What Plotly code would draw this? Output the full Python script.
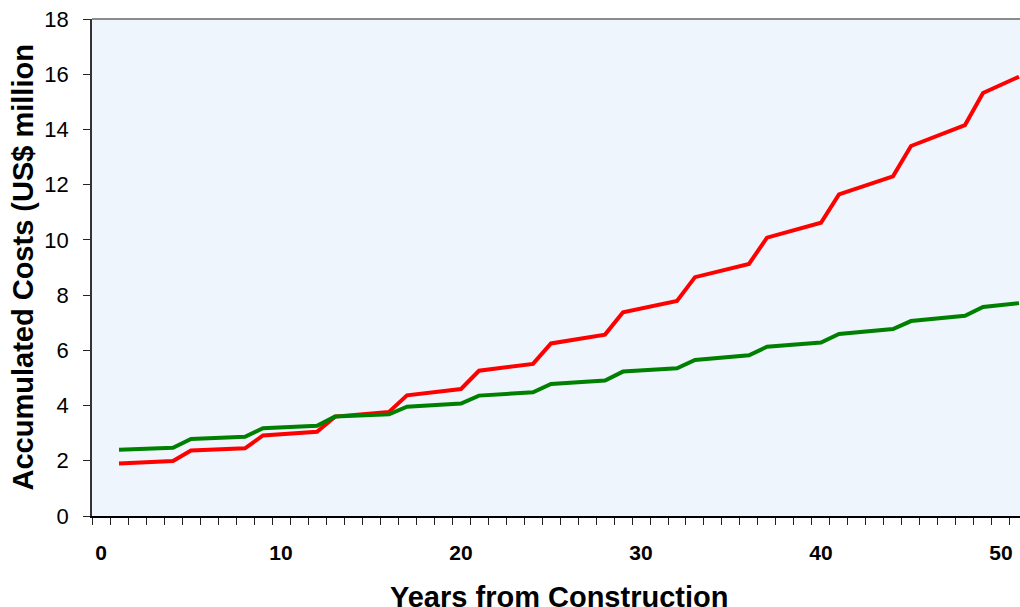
import plotly.graph_objects as go

years = list(range(1, 52))

red_costs = [1.90, 1.93, 1.96, 1.99,
             2.37, 2.40, 2.42, 2.45,
             2.92, 2.96, 3.01, 3.05,
             3.60, 3.66, 3.71, 3.77,
             4.37, 4.45, 4.52, 4.60,
             5.26, 5.34, 5.43, 5.51,
             6.25, 6.35, 6.46, 6.57,
             7.38, 7.51, 7.65, 7.79,
             8.65, 8.80, 8.96, 9.13,
             10.08, 10.26, 10.44, 10.62,
             11.65, 11.86, 12.08, 12.30,
             13.40, 13.65, 13.90, 14.16,
             15.32, 15.60, 15.91]

green_costs = [2.40, 2.42, 2.45, 2.47,
               2.79, 2.82, 2.84, 2.87,
               3.18, 3.21, 3.24, 3.27,
               3.60, 3.63, 3.65, 3.68,
               3.96, 4.00, 4.03, 4.07,
               4.36, 4.40, 4.44, 4.48,
               4.78, 4.82, 4.87, 4.91,
               5.23, 5.27, 5.31, 5.35,
               5.65, 5.71, 5.76, 5.82,
               6.13, 6.18, 6.23, 6.28,
               6.59, 6.65, 6.71, 6.77,
               7.06, 7.12, 7.19, 7.25,
               7.57, 7.64, 7.71]

x_tick_labels = [0, 10, 20, 30, 40, 50]
y_tick_labels = [0, 2, 4, 6, 8, 10, 12, 14, 16, 18]

FONT = "Arial, 'Liberation Sans', sans-serif"

fig = go.Figure()
fig.add_trace(go.Scatter(x=years, y=red_costs, mode="lines",
                         line=dict(color="#FF0000", width=4), showlegend=False))
fig.add_trace(go.Scatter(x=years, y=green_costs, mode="lines",
                         line=dict(color="#008000", width=4), showlegend=False))

fig.update_layout(
    width=1020, height=607,
    margin=dict(l=92, r=0, t=19, b=91),
    paper_bgcolor="white",
    plot_bgcolor="#EEF5FC",
    font=dict(family=FONT, color="black"),
    xaxis=dict(
        range=[-0.5, 51.056],
        tickmode="array", tickvals=x_tick_labels,
        ticktext=[str(v) for v in x_tick_labels],
        ticks="", showgrid=False, zeroline=False,
        showline=True, linecolor="black", linewidth=1.5,
        tickfont=dict(size=21, family=FONT, color="black", weight="bold"),
        ticklabelstandoff=17,
        minor=dict(tickmode="linear", tick0=-0.5, dtick=1, ticks="outside",
                   ticklen=7, tickwidth=1, tickcolor="#222222", showgrid=False),
    ),
    yaxis=dict(
        range=[0, 18],
        tickmode="array", tickvals=y_tick_labels,
        ticks="outside", ticklen=7, tickwidth=1, tickcolor="#222222",
        showgrid=False, zeroline=False,
        showline=True, linecolor="#333333", linewidth=1.5,
        tickfont=dict(size=22, family=FONT, color="black"),
        ticklabelstandoff=10,
    ),
    shapes=[dict(type="line", xref="paper", yref="paper", x0=0, x1=1, y0=1, y1=1,
                 line=dict(color="#666666", width=1.5))],
    annotations=[
        dict(text="Accumulated Costs (US$ million", xref="paper", yref="paper",
             x=-0.0744, y=0.5, xanchor="center", yanchor="middle", textangle=-90,
             showarrow=False, font=dict(size=29, family=FONT, color="black", weight="bold")),
        dict(text="Years from Construction", xref="paper", yref="paper",
             x=0.503, y=-0.163, xanchor="center", yanchor="middle",
             showarrow=False, font=dict(size=29, family=FONT, color="black", weight="bold")),
    ],
)

fig.write_html(
    "out.html",
    config={"displayModeBar": False},
    post_script="document.body.style.margin='0';document.body.style.overflow='hidden';",
)
